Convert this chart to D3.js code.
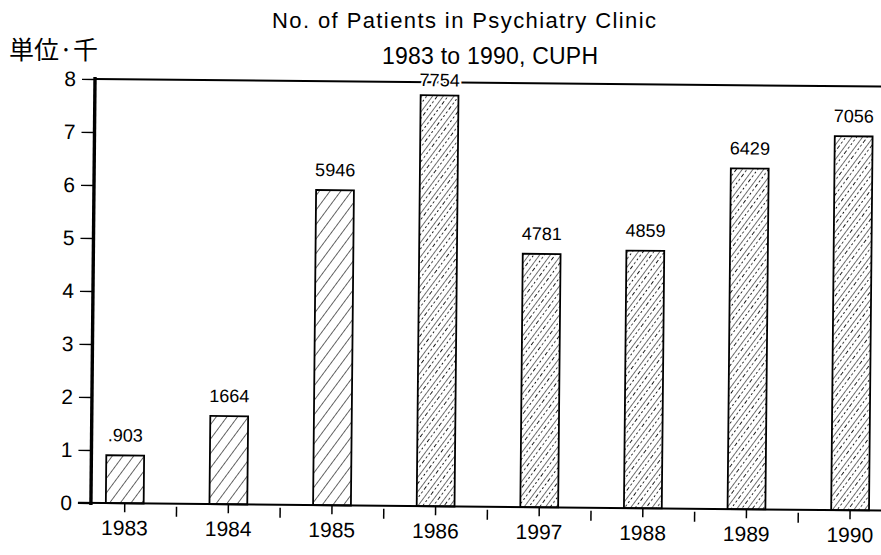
<!DOCTYPE html>
<html><head><meta charset="utf-8">
<script src="https://cdn.jsdelivr.net/npm/d3@7"></script>
<style>body{margin:0;background:#fff}svg{display:block}</style>
</head><body>
<script>
const years = ["1983","1984","1985","1986","1997","1988","1989","1990"];
const values = [0.903, 1.664, 5.946, 7.754, 4.781, 4.859, 6.429, 7.056];
const valueLabels = [".903","1664","5946","7754","4781","4859","6429","7056"];
const yTicks = [0,1,2,3,4,5,6,7,8];
const titleLines = ["No. of Patients in Psychiatry Clinic", "1983 to 1990, CUPH"];
const yUnit = "単位·千";

const W = 881, H = 555;
const FONT = "Liberation Sans, Arial, sans-serif";
const svg = d3.select("body").append("svg").attr("width", W).attr("height", H);
const defs = svg.append("defs");
const pat = defs.append("pattern").attr("id","hatch").attr("patternUnits","userSpaceOnUse")
  .attr("width",8.6).attr("height",20).attr("patternTransform","rotate(36)");
pat.append("line").attr("x1",0).attr("y1",0).attr("x2",0).attr("y2",20)
  .attr("stroke","#000").attr("stroke-width",1.2);
const pat2 = defs.append("pattern").attr("id","hatch2").attr("patternUnits","userSpaceOnUse")
  .attr("width",8.6).attr("height",20).attr("patternTransform","rotate(36)");
pat2.append("line").attr("x1",0).attr("y1",0).attr("x2",0).attr("y2",20)
  .attr("stroke","#000").attr("stroke-width",1.1);
pat2.append("line").attr("x1",4.3).attr("y1",0).attr("x2",4.3).attr("y2",20)
  .attr("stroke","#000").attr("stroke-width",0.9).attr("stroke-dasharray","2,2.5");

const g = svg.append("g").attr("transform","rotate(0.55,95,80)");

const y = d3.scaleLinear().domain([0,8]).range([503,79]);
const x = d3.scaleBand().domain(years).range([77,906]).paddingInner(0.635).paddingOuter(0.3175);

// title
svg.append("text").attr("x",272).attr("y",28).attr("textLength",384).attr("lengthAdjust","spacing")
  .attr("font-family",FONT).attr("font-size",22).text(titleLines[0]);
svg.append("text").attr("x",382).attr("y",64).attr("textLength",216).attr("lengthAdjust","spacing")
  .attr("font-family",FONT).attr("font-size",23).text(titleLines[1]);
svg.append("text").attr("x",9).attr("y",59).attr("font-family","Noto Sans CJK JP")
  .attr("font-size",25).text(yUnit);

// frame top line
g.append("line").attr("x1",95).attr("x2",W+10).attr("y1",y(8)).attr("y2",y(8))
  .attr("stroke","#000").attr("stroke-width",2);

// bars
g.selectAll("rect.bar").data(years).join("rect").attr("class","bar")
  .attr("x",d=>x(d)).attr("width",x.bandwidth())
  .attr("y",(d,i)=>y(values[i])).attr("height",(d,i)=>y(0)-y(values[i]))
  .attr("fill",(d,i)=> i>=3 ? "url(#hatch2)" : "url(#hatch)")
  .attr("stroke","#000").attr("stroke-width",1.8);

// value labels (sit on the frame line when the bar is near the top; white halo breaks the line)
g.selectAll("text.val").data(years).join("text").attr("class","val")
  .attr("x",d=>x(d)+x.bandwidth()/2)
  .attr("y",(d,i)=>Math.max(y(values[i])-14, y(8)+4))
  .attr("text-anchor","middle").attr("font-family",FONT).attr("font-size",18)
  .attr("stroke","#fff").attr("stroke-width",4).attr("paint-order","stroke")
  .text((d,i)=>valueLabels[i]);

// y axis
const yAxis = d3.axisLeft(y).tickValues(yTicks).tickFormat(d3.format("d")).tickSize(13).tickPadding(6);
const ya = g.append("g").attr("transform","translate(95,0)").call(yAxis);
ya.select(".domain").attr("stroke-width",3.4).attr("d",`M0,${y(8)-2}V${y(0)+2}`);
ya.selectAll(".tick line").attr("stroke-width",1.3);
ya.selectAll(".tick text").attr("font-family",FONT).attr("font-size",21).attr("fill","#000");

// x axis
const xAxis = d3.axisBottom(x).tickSize(9).tickPadding(8);
const xa = g.append("g").attr("transform",`translate(0,${y(0)})`).call(xAxis);
xa.select(".domain").attr("d",`M82,0H${W+10}`).attr("stroke-width",2);
xa.selectAll(".tick line").attr("stroke-width",1.5);
xa.selectAll(".tick text").attr("font-family",FONT).attr("font-size",21).attr("fill","#000");
// minor ticks between categories
const mids = years.slice(1).map(d=>x(d)-x.step()*x.paddingInner()/2);
xa.selectAll("line.minor").data(mids).join("line").attr("class","minor")
  .attr("x1",d=>d).attr("x2",d=>d).attr("y1",3).attr("y2",13)
  .attr("stroke","#000").attr("stroke-width",1.5);
</script>
</body></html>
